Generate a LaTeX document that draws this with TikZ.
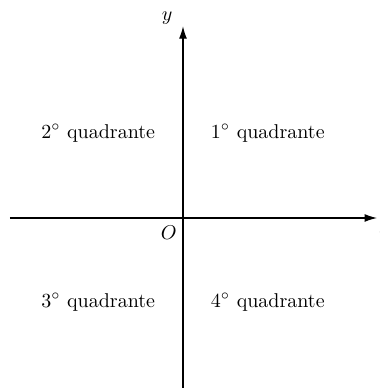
\documentclass[tikz,border=0pt]{standalone}
\usepackage{tikz}
\usetikzlibrary{arrows.meta}

\begin{document}
\begin{tikzpicture}[
  axis/.style={semithick, -{Latex[length=2.2mm, width=1.4mm]}},
  quad/.style={font=\normalsize, inner sep=2pt},
]
  % page frame with the reference margins
  \useasboundingbox (-3.215,-2.987) rectangle (3.444,3.830);

  % axes ends
  \coordinate (xmin) at (-3.04,0);
  \coordinate (xmax) at (3.41,0);
  \coordinate (ymin) at (0,-2.99);
  \coordinate (ymax) at (0,3.37);

  \draw[axis] (xmin) -- (xmax);
  \draw[axis] (ymin) -- (ymax);

  \node (xlab) at (3.55,-0.2) {$x$};
  \node (ylab) at (-0.28,3.51) {$y$};
  \node (orig) at (-0.25,-0.26) {$O$};

  % quadrant labels
  \node[quad] (q1) at (1.49,1.49) {1$^\circ$ quadrante};
  \node[quad] (q2) at (-1.49,1.49) {2$^\circ$ quadrante};
  \node[quad] (q3) at (-1.49,-1.48) {3$^\circ$ quadrante};
  \node[quad] (q4) at (1.49,-1.48) {4$^\circ$ quadrante};
\end{tikzpicture}
\end{document}
